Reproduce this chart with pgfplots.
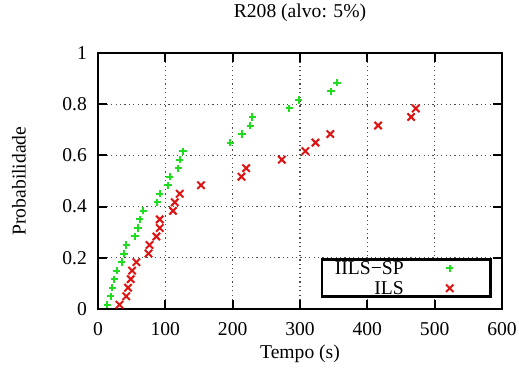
\documentclass[border=0pt]{standalone}
\usepackage{fontspec}
\setmainfont{Liberation Serif}
\usepackage{pgfplots}
\pgfplotsset{compat=1.18}
\definecolor{gpgreen}{RGB}{30,220,30}
\definecolor{gpred}{RGB}{220,20,20}
\begin{document}
\begin{tikzpicture}[font=\fontsize{9.8pt}{11pt}\selectfont]
\begin{axis}[
  scale only axis,
  width=202pt, height=128pt,
  xmin=0, xmax=600, ymin=0, ymax=1,
  xtick={0,100,...,600},
  ytick={0,0.2,...,1},
  /pgf/number format/assume math mode=true,
  tick align=inside,
  major tick length=4.5pt,
  every tick/.style={black, line width=1pt},
  axis line style={black, line width=1.3pt},
  grid=major,
  major grid style={black!70, line width=0.6pt, dash pattern=on 0.6pt off 1.6pt},
  yticklabel style={xshift=-2pt},
  xticklabel style={yshift=-3.3pt},
  title={R208 (alvo: 5\%)},
  title style={at={(axis description cs:0.5,1.109)}, anchor=center},
  xlabel={Tempo (s)},
  xlabel style={at={(axis description cs:0.5,-0.176)}, anchor=center},
  ylabel={Probabilidade},
  ylabel style={at={(axis description cs:-0.196,0.5)}, anchor=center},
  legend cell align=right,
  legend plot pos=right,
  legend image code/.code={\path[draw=none,fill=none] (0pt,-2pt) (37pt,2pt); \draw[#1] plot coordinates {(23pt,0pt)};},
  legend style={at={(axis description cs:1,0)}, anchor=south east, xshift=-5pt, yshift=5.5pt,
    draw=black, line width=1.3pt, inner xsep=6.5pt, inner ysep=1pt, row sep=3.5pt, column sep=0pt,
    nodes={inner sep=0pt, text height=6.5pt, text depth=0pt}},
]
\addplot[only marks, mark=+, mark size=1.8pt, color=gpgreen, mark options={line width=1pt}] coordinates {
(14,0.0167) (19,0.05) (21,0.0833) (24,0.1167) (27.5,0.15) (35,0.1833) (38.5,0.2167) (42,0.25)
(55,0.2833) (59.5,0.3167) (62,0.35) (67,0.3833) (88,0.4167) (91.7,0.45) (104,0.4833) (106.5,0.5167)
(119,0.55) (121.5,0.5833) (126.3,0.6167) (196.5,0.65) (214,0.6833) (226,0.7167) (229,0.75)
(284,0.7833) (298,0.8167) (346,0.85) (355,0.8833)
};
\addlegendentry{IILS−SP}
\addplot[only marks, mark=x, mark size=2.6pt, color=gpred, mark options={line width=1pt}] coordinates {
(32,0.0167) (42,0.05) (44.6,0.0833) (48.6,0.1167) (50.6,0.15) (57,0.1833) (75,0.2167) (76.5,0.25)
(86.7,0.2833) (91.7,0.3167) (91.7,0.35) (111.4,0.3833) (114,0.4167) (121.4,0.45) (153,0.4833)
(213,0.5167) (220,0.55) (273,0.5833) (308,0.6167) (323,0.65) (345,0.6833) (416,0.7167)
(465,0.75) (472,0.7833)
};
\addlegendentry{ILS}
\coordinate (ll) at (rel axis cs:0,0);
\coordinate (ur) at (rel axis cs:1,1);
\end{axis}
\pgfresetboundingbox
\path ([shift={(-49pt,-29.5pt)}]ll) rectangle ([shift={(8.5pt,26.5pt)}]ur);
\end{tikzpicture}
\end{document}
